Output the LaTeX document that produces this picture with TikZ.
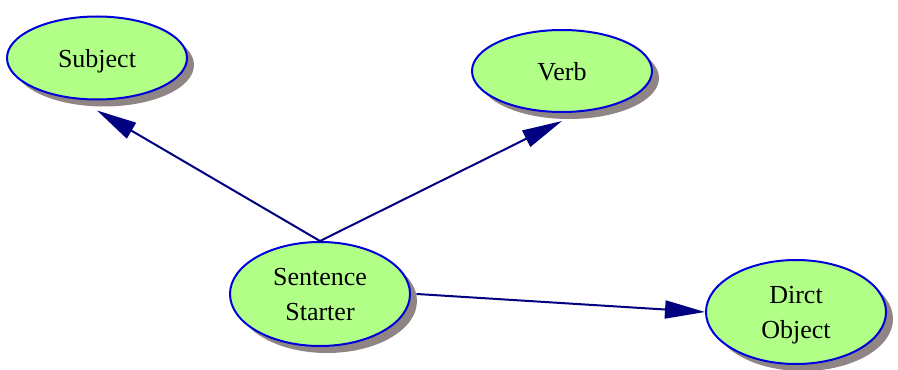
\documentclass[tikz,border=0pt]{standalone}
\usepackage{fontspec}
\setmainfont{Liberation Serif}
\usetikzlibrary{arrows.meta}
\usetikzlibrary{shapes.geometric}
\usetikzlibrary{shadows}
\definecolor{nodegreen}{RGB}{178,255,136}
\definecolor{nodeblue}{RGB}{0,0,220}
\definecolor{shadowgray}{RGB}{143,133,133}
\definecolor{edgenavy}{RGB}{0,0,128}
\begin{document}
\begin{tikzpicture}[x=0.5pt,y=-0.5pt,line cap=round,line join=round,
    word/.style={ellipse,draw=nodeblue,line width=1pt,fill=nodegreen,minimum width=90pt,inner sep=0pt,
      align=center,text depth=0pt,font=\fontsize{13pt}{17.5pt}\selectfont,
      drop shadow={shadow xshift=3.5pt,shadow yshift=-3.5pt,fill=shadowgray,opacity=1}},
    link/.style={-{Triangle[length=20pt,width=9pt]},color=edgenavy,line width=1pt}]
        \useasboundingbox (0,0) rectangle (898,369);
        \node[word,minimum height=41.5pt] (subject) at (97,58) {Subject};
        \node[word,minimum height=41pt] (verb) at (562,71) {Verb};
        \node[word,minimum height=52pt] (starter) at (320,294) {Sentence\\Starter};
        \node[word,minimum height=52pt] (object) at (796,312) {Dirct\\Object};
        \draw[link] (starter.north) -- ([yshift=-5pt]subject.south);
        \draw[link] (starter.north) -- ([yshift=-4pt]verb.south);
        \draw[link] ([xshift=3pt]starter.east) -- (object.west);
      \end{tikzpicture}
\end{document}
